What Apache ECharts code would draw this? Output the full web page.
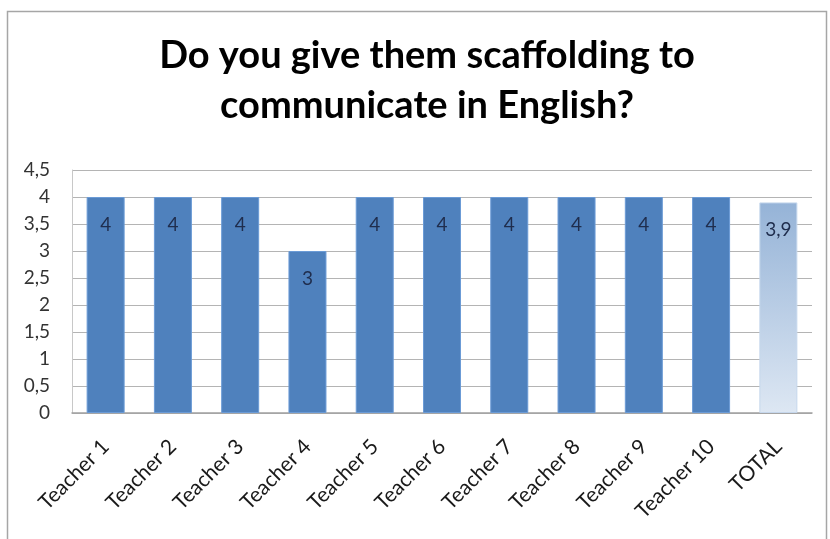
<!DOCTYPE html>
<html>
<head>
<meta charset="utf-8">
<style>
  html, body { margin: 0; padding: 0; background: #fff; }
  #chart { width: 830px; height: 539px; }
</style>
<script src="https://cdn.jsdelivr.net/npm/echarts@6/dist/echarts.min.js"></script>
</head>
<body>
<div id="chart"></div>
<script>
const categories = ['Teacher 1', 'Teacher 2', 'Teacher 3', 'Teacher 4', 'Teacher 5',
  'Teacher 6', 'Teacher 7', 'Teacher 8', 'Teacher 9', 'Teacher 10', 'TOTAL'];
const teacherScores = [4, 4, 4, 3, 4, 4, 4, 4, 4, 4];
const totalScore = 3.9;
const titleText = 'Do you give them scaffolding to\ncommunicate in English?';

const FONT = 'Lato, "Open Sans", sans-serif';
const comma = v => String(v).replace('.', ',');

const barData = teacherScores.map(v => ({ value: v }));
barData.push({
  value: totalScore,
  itemStyle: {
    color: new echarts.graphic.LinearGradient(0, 0, 0, 1, [
      { offset: 0, color: '#95b3d7' },
      { offset: 1, color: '#dde7f3' }
    ]),
    borderColor: '#c6d7ec'
  }
});

const chart = echarts.init(document.getElementById('chart'), null, { renderer: 'canvas' });
chart.setOption({
  backgroundColor: '#ffffff',
  animation: false,
  title: {
    text: titleText,
    left: 422,
    textAlign: 'center',
    top: 26,
    textStyle: {
      fontFamily: FONT,
      fontWeight: 'bold',
      fontSize: 38,
      lineHeight: 50,
      color: '#000000'
    }
  },
  graphic: [{
    type: 'rect',
    shape: { x: 7.5, y: 11.5, width: 819, height: 560 },
    style: { fill: 'none', stroke: '#a6a6a6', lineWidth: 1.5 },
    silent: true
  }],
  grid: { left: 72, right: 18, top: 170, bottom: 126 },
  xAxis: {
    type: 'category',
    data: categories,
    axisLine: { lineStyle: { color: '#a0a0a0', width: 1.5 } },
    axisTick: { show: false },
    axisLabel: {
      rotate: 45,
      interval: 0,
      margin: 30,
      fontFamily: FONT,
      fontSize: 21,
      color: '#1a1a1a'
    }
  },
  yAxis: {
    type: 'value',
    min: 0,
    max: 4.5,
    interval: 0.5,
    axisLine: { show: true, lineStyle: { color: '#c8c8c8' } },
    axisTick: { show: false },
    splitLine: { lineStyle: { color: '#b4b4b4' } },
    axisLabel: {
      margin: 22,
      fontFamily: FONT,
      fontSize: 19,
      color: '#333333',
      formatter: comma
    }
  },
  series: [{
    type: 'bar',
    data: barData,
    barWidth: 38,
    itemStyle: { color: '#4f81bd', borderColor: '#6b9bd6', borderWidth: 1 },
    label: {
      show: true,
      position: 'insideTop',
      distance: 18,
      fontFamily: FONT,
      fontSize: 19,
      color: '#1f2d4d',
      formatter: p => comma(p.value)
    }
  }]
});
</script>
</body>
</html>
